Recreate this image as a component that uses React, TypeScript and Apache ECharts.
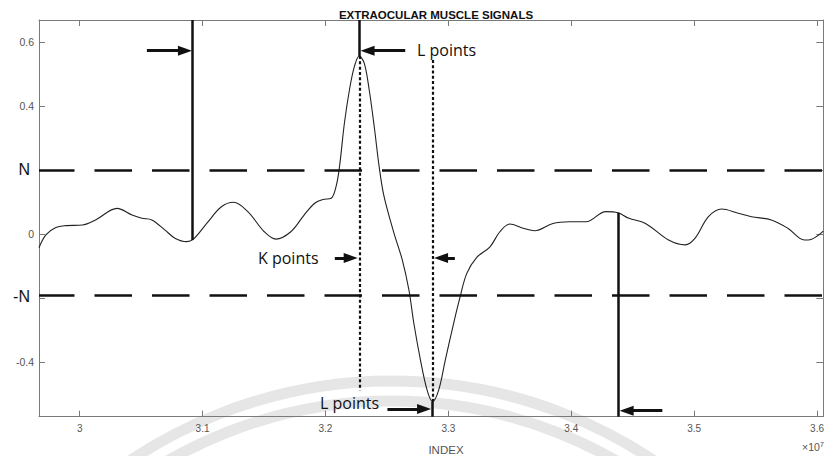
import React, { useEffect, useRef } from "react";
import * as echarts from "echarts";

// Axis extents (x in units of 10^7)
const X_MIN = 2.9669;
const X_MAX = 3.6051;
const Y_MIN = -0.57;
const Y_MAX = 0.6697;

const xTickValues = [3, 3.1, 3.2, 3.3, 3.4, 3.5, 3.6];
const N_POS = 0.204;
const N_NEG = -0.193;
const yLabelValues = [-0.4, N_NEG, 0, N_POS, 0.4, 0.6];
const yTickValues = [-0.4, -0.2, 0, 0.2, 0.4, 0.6];

const signalX = [
  2.9669, 2.9725, 2.9806, 2.9887, 3.0022, 3.0129, 3.0305, 3.0426, 3.0506, 3.0587,
  3.0695, 3.0775, 3.087, 3.0923, 3.1044, 3.1153, 3.1252, 3.1368, 3.1502, 3.1597,
  3.1718, 3.1826, 3.1912, 3.1979, 3.2046, 3.2086, 3.2114, 3.2154, 3.2195, 3.2235,
  3.2275, 3.2316, 3.2356, 3.2397, 3.2437, 3.2477, 3.2558, 3.2625, 3.2679, 3.2719,
  3.2773, 3.2827, 3.2871, 3.2921, 3.2975, 3.3043, 3.3096, 3.315, 3.3231, 3.3339,
  3.3419, 3.35, 3.3608, 3.3702, 3.3851, 3.3985, 3.412, 3.4281, 3.438, 3.4469,
  3.4604, 3.4792, 3.4927, 3.5008, 3.5116, 3.5224, 3.5358, 3.5466, 3.5628, 3.5762,
  3.5897, 3.5951, 3.6051,
];
const signalY = [
  -0.042, -0.002, 0.021, 0.027, 0.029, 0.045, 0.081, 0.06, 0.05, 0.045,
  0.013, -0.012, -0.023, -0.016, 0.039, 0.086, 0.1, 0.071, 0.008, -0.015,
  0.008, 0.06, 0.097, 0.109, 0.1125, 0.149, 0.211, 0.347, 0.451, 0.524,
  0.557, 0.534, 0.451, 0.336, 0.211, 0.1175, 0.003, -0.08, -0.174, -0.278,
  -0.393, -0.487, -0.523, -0.487, -0.393, -0.278, -0.195, -0.122, -0.072, -0.039,
  0.008, 0.032, 0.019, 0.011, 0.034, 0.039, 0.039, 0.071, 0.0675, 0.05,
  0.034, -0.018, -0.033, -0.012, 0.055, 0.079, 0.066, 0.055, 0.045, 0.019,
  -0.018, -0.016, 0.01,
];

// Annotation positions (data units)
const lPeakX = 3.2275;
const lPeakY = 0.557;
const lTroughX = 3.2871;
const lTroughY = -0.523;
const leftMarkerX = 3.0915;
const leftMarkerY = -0.018;
const rightMarkerX = 3.438;
const rightMarkerY = 0.0675;

// arrows: [tailX, tipX, y]
const arrowDefs: [number, number, number][] = [
  [3.0547, 3.0913, 0.5738],
  [3.2649, 3.2286, 0.5738],
  [3.2076, 3.2262, -0.074],
  [3.3053, 3.2884, -0.074],
  [3.2504, 3.2859, -0.5459],
  [3.4741, 3.4394, -0.5513],
];

const INK = "#111";

export default function App() {
  const ref = useRef<HTMLDivElement>(null);

  useEffect(() => {
    if (!ref.current) return;
    const chart = echarts.init(ref.current, null, { renderer: "svg" });

    const data = signalX.map((x, i) => [x, signalY[i]]);
    const shift = 7 / 1238;

    const solid = { type: "solid", width: 2.5, color: INK };
    const dotted = { type: [3, 2.3], width: 2.2, color: INK };
    const dashed = { type: [37.5, 20], width: 2.5, color: INK, dashOffset: 2 };

    const seg = (x1: number, y1: number, x2: number, y2: number, ls: any) => [
      { coord: [x1, y1], symbol: "none", lineStyle: ls },
      { coord: [x2, y2], symbol: "none" },
    ];

    const arrows = arrowDefs.map(([tail, tip, y]) => {
      const dir = tip > tail ? 1 : -1;
      return [
        { coord: [tail, y], symbol: "none", lineStyle: { type: "solid", width: 3, color: INK } },
        { coord: [tip - dir * shift, y], symbol: "triangle", symbolSize: [10, 14] },
      ];
    });

    const markData: any[] = [
      { yAxis: N_POS, lineStyle: dashed, symbol: "none" },
      { yAxis: N_NEG, lineStyle: dashed, symbol: "none" },
      seg(leftMarkerX, Y_MAX, leftMarkerX, leftMarkerY, solid),
      seg(lPeakX, Y_MAX, lPeakX, lPeakY, solid),
      seg(lPeakX, lPeakY, lPeakX, -0.487, dotted),
      seg(lTroughX, 0.545, lTroughX, lTroughY, dotted),
      seg(lTroughX, lTroughY, lTroughX, Y_MIN, solid),
      seg(rightMarkerX, rightMarkerY, rightMarkerX, Y_MIN, solid),
      ...arrows,
    ];

    const axisGray = "#7a7a7a";
    const labelGray = "#555";
    const font = "'Liberation Sans', Arial, sans-serif";
    const annFont = "'Open Sans', 'Noto Sans', sans-serif";
    const axLine = { show: true, onZero: false, lineStyle: { color: axisGray, width: 1 } };

    chart.setOption({
      animation: false,
      backgroundColor: "#fff",
      title: {
        text: "EXTRAOCULAR MUSCLE SIGNALS",
        left: 431,
        top: 4,
        textAlign: "center",
        textStyle: { fontSize: 11.5, fontWeight: "bold", color: INK, fontFamily: font },
      },
      grid: { left: 39, top: 20, right: -2, bottom: 39.3, containLabel: false },
      xAxis: [
        {
          type: "value",
          min: X_MIN,
          max: X_MAX,
          position: "bottom",
          axisLine: axLine,
          axisTick: { show: true, inside: true, length: 6, customValues: xTickValues, lineStyle: { color: axisGray } },
          axisLabel: {
            customValues: xTickValues,
            formatter: (v: number) => String(v),
            color: labelGray,
            fontSize: 10,
            fontFamily: font,
            margin: 7,
          },
          splitLine: { show: false },
        },
        {
          type: "value",
          min: X_MIN,
          max: X_MAX,
          position: "top",
          axisLine: axLine,
          axisTick: { show: true, inside: true, length: 6, customValues: xTickValues, lineStyle: { color: axisGray } },
          axisLabel: { show: false },
          splitLine: { show: false },
        },
      ],
      yAxis: [
        {
          type: "value",
          min: Y_MIN,
          max: Y_MAX,
          position: "left",
          axisLine: axLine,
          axisTick: { show: true, inside: true, length: 6, customValues: yTickValues, lineStyle: { color: axisGray } },
          axisLabel: {
            customValues: yLabelValues,
            formatter: (v: number) => {
              if (Math.abs(v - N_POS) < 1e-6) return "{n|N}";
              if (Math.abs(v - N_NEG) < 1e-6) return "{n|-N}";
              return String(v);
            },
            color: labelGray,
            fontSize: 10.5,
            fontFamily: font,
            margin: 5,
            rich: {
              n: { fontSize: 16, color: INK, fontFamily: font, padding: [0, 4, 0, 0] },
            },
          },
          splitLine: { show: false },
        },
        {
          type: "value",
          min: Y_MIN,
          max: Y_MAX,
          position: "right",
          axisLine: axLine,
          axisTick: { show: true, inside: true, length: 7, customValues: yTickValues, lineStyle: { color: axisGray } },
          axisLabel: { show: false },
          splitLine: { show: false },
        },
      ],
      graphic: [
        {
          type: "arc",
          silent: true,
          z: -10,
          shape: { cx: 392, cy: 851, r: 470, startAngle: Math.PI, endAngle: 2 * Math.PI },
          style: { stroke: "#e6e6e6", lineWidth: 11, fill: null },
        },
        {
          type: "arc",
          silent: true,
          z: -10,
          shape: { cx: 392, cy: 851, r: 450, startAngle: Math.PI, endAngle: 2 * Math.PI },
          style: { stroke: "#e6e6e6", lineWidth: 11, fill: null },
        },
        {
          type: "text",
          x: 417,
          y: 50,
          style: { text: "L points", fontSize: 16, fontFamily: annFont, fill: INK, verticalAlign: "middle", align: "left" },
        },
        {
          type: "text",
          x: 258,
          y: 258,
          style: { text: "K points", fontSize: 16, fontFamily: annFont, fill: INK, verticalAlign: "middle", align: "left" },
        },
        {
          type: "text",
          x: 320,
          y: 403,
          style: { text: "L points", fontSize: 16, fontFamily: annFont, fill: INK, verticalAlign: "middle", align: "left" },
        },
        {
          type: "text",
          x: 446,
          y: 450,
          style: { text: "INDEX", fontSize: 11.5, fontFamily: font, fill: labelGray, verticalAlign: "middle", align: "center" },
        },
        {
          type: "text",
          x: 824,
          y: 447,
          style: {
            text: "×10{s|7}",
            fontSize: 10.5,
            fontFamily: font,
            fill: labelGray,
            verticalAlign: "middle",
            align: "right",
            rich: { s: { fontSize: 7.5, fill: labelGray, fontFamily: font, padding: [0, 0, 6, 0] } },
          },
        },
      ],
      series: [
        {
          type: "line",
          name: "signal",
          xAxisIndex: 0,
          yAxisIndex: 0,
          data,
          showSymbol: false,
          smooth: 0.35,
          lineStyle: { color: "#222", width: 1.1 },
          itemStyle: { color: INK },
          z: 3,
          markLine: {
            silent: true,
            animation: false,
            symbol: ["none", "none"],
            label: { show: false },
            lineStyle: { color: INK },
            emphasis: { disabled: true },
            data: markData,
          },
        },
      ],
    });

    return () => chart.dispose();
  }, []);

  return (
    <div
      ref={ref}
      style={{ position: "fixed", left: 0, top: 0, width: 827, height: 456, background: "#fff" }}
    />
  );
}
